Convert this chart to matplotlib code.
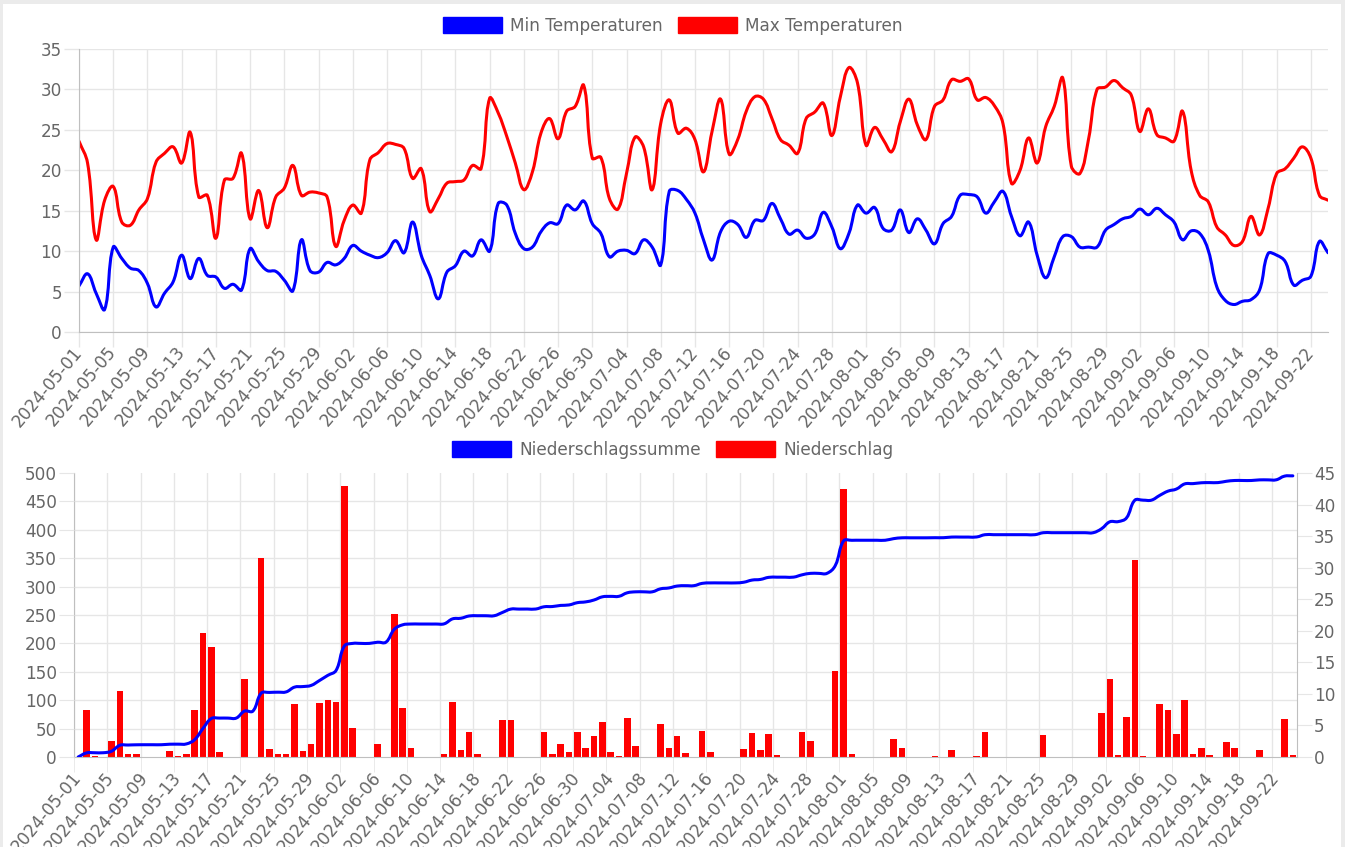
import numpy as np
import pandas as pd
import matplotlib
matplotlib.use("Agg")
import matplotlib.pyplot as plt
from matplotlib.path import Path
from matplotlib.patches import PathPatch, Patch, Rectangle

# daily values 2024-05-01 .. 2024-09-24
dates = pd.date_range("2024-05-01", "2024-09-24").strftime("%Y-%m-%d").tolist()

t_min = [
    5.7, 7.2, 4.8, 2.8, 10.5, 9.1, 7.9, 7.6, 6.0, 3.1,
    4.8, 6.2, 9.5, 6.6, 9.1, 7.0, 6.8, 5.4, 5.9, 5.2,
    10.3, 8.7, 7.6, 7.5, 6.4, 5.1, 11.4, 7.6, 7.4, 8.6,
    8.3, 9.1, 10.7, 10.0, 9.5, 9.2, 9.8, 11.3, 9.8, 13.6,
    9.5, 7.0, 4.1, 7.4, 8.2, 10.0, 9.4, 11.4, 10.0, 15.9,
    15.7, 12.2, 10.3, 10.5, 12.4, 13.5, 13.4, 15.7, 15.1, 16.2,
    13.4, 12.2, 9.3, 10.0, 10.1, 9.7, 11.4, 10.5, 8.3, 17.4,
    17.5, 16.4, 14.7, 11.4, 8.9, 12.4, 13.7, 13.3, 11.7, 13.8,
    13.8, 15.9, 14.0, 12.1, 12.6, 11.6, 12.1, 14.8, 13.0, 10.3,
    12.2, 15.7, 14.7, 15.4, 12.8, 12.6, 15.1, 12.3, 14.0, 12.6,
    10.9, 13.4, 14.3, 16.9, 17.0, 16.7, 14.7, 16.1, 17.4, 14.3,
    11.9, 13.6, 9.5, 6.7, 9.3, 11.8, 11.8, 10.5, 10.5, 10.5,
    12.6, 13.3, 14.0, 14.3, 15.2, 14.5, 15.3, 14.5, 13.6, 11.4,
    12.5, 12.2, 10.1, 5.6, 3.9, 3.4, 3.8, 4.0, 5.2, 9.7,
    9.5, 8.7, 5.8, 6.4, 6.9, 11.2, 9.8,
]

t_max = [
    23.6, 20.9, 11.4, 16.3, 18.0, 13.6, 13.2, 15.1, 16.5, 21.0,
    22.1, 22.9, 20.9, 24.7, 16.7, 16.9, 11.6, 18.8, 19.0, 22.1,
    14.0, 17.5, 12.9, 16.7, 17.8, 20.6, 16.9, 17.3, 17.2, 16.7,
    10.6, 13.8, 15.7, 14.7, 21.3, 22.2, 23.3, 23.2, 22.7, 19.0,
    20.2, 14.9, 16.5, 18.4, 18.6, 18.8, 20.6, 20.2, 28.9, 27.1,
    24.2, 20.9, 17.6, 19.8, 24.6, 26.4, 23.9, 27.3, 27.9, 30.5,
    21.5, 21.6, 16.5, 15.2, 19.6, 24.1, 22.9, 17.6, 25.8, 28.7,
    24.6, 25.2, 23.8, 19.8, 24.8, 28.8, 22.0, 23.8, 27.3, 29.1,
    28.8, 26.4, 23.8, 23.1, 22.1, 26.4, 27.2, 28.3, 24.3, 29.1,
    32.7, 30.8, 23.1, 25.3, 23.8, 22.3, 26.0, 28.8, 25.6, 23.8,
    27.9, 28.7, 31.2, 31.0, 31.3, 28.7, 29.0, 28.0, 25.8, 18.4,
    20.0, 24.0, 20.9, 25.4, 27.9, 31.4, 20.5, 19.6, 23.8, 30.0,
    30.3, 31.1, 30.2, 29.3, 24.8, 27.6, 24.4, 24.0, 23.6, 27.3,
    20.0, 16.9, 16.1, 13.0, 12.0, 10.7, 11.2, 14.3, 12.0, 15.3,
    19.6, 20.2, 21.5, 22.9, 21.5, 16.9, 16.3,
]

rain = [
    0, 7.4, 0.1, 0, 2.6, 10.5, 0.5, 0.4, 0.05, 0,
    0, 0.9, 0.15, 0.4, 7.5, 19.7, 17.5, 0.8, 0, 0,
    12.3, 0, 31.6, 1.3, 0.4, 0.5, 8.4, 1.0, 2.0, 8.6,
    9.1, 8.7, 43.0, 4.6, 0, 0, 2.1, 0.05, 22.7, 7.8,
    1.4, 0, 0, 0.05, 0.4, 8.7, 1.1, 4.0, 0.4, 0,
    0, 5.8, 5.9, 0, 0.05, 0, 4.0, 0.4, 2.0, 0.8,
    4.0, 1.4, 3.3, 5.6, 0.8, 0.1, 6.2, 1.7, 0, 0,
    5.3, 1.5, 3.4, 0.6, 0, 4.1, 0.8, 0, 0, 0,
    1.2, 3.8, 1.1, 3.7, 0.3, 0, 0.05, 4.0, 2.6, 0,
    0, 13.7, 42.5, 0.5, 0.05, 0, 0, 0, 2.8, 1.5,
    0, 0, 0, 0.2, 0, 1.1, 0, 0, 0.15, 4.0,
    0, 0, 0, 0, 0, 0, 3.5, 0, 0, 0,
    0, 0, 0, 6.9, 12.3, 0.3, 6.4, 31.2, 0.15, 0.05,
    8.4, 7.5, 3.6, 9.1, 0.5, 1.5, 0.3, 0, 2.3, 1.4,
    0, 0, 1.1, 0, 0.05, 6.0, 0.3,
]

rain_sum = [
    0, 7.2, 7.5, 7.5, 10.1, 20.6, 21.1, 21.5, 21.6, 21.6,
    21.6, 22.5, 22.6, 23.0, 30.5, 50.2, 67.7, 68.5, 68.5, 68.5,
    80.8, 80.8, 112.4, 113.7, 114.1, 114.6, 123.0, 124.0, 126.0, 134.6,
    143.7, 152.4, 195.4, 200.0, 200.0, 200.0, 202.1, 202.2, 224.9, 232.7,
    234.1, 234.1, 234.1, 234.1, 234.5, 243.2, 244.3, 248.3, 248.7, 248.7,
    248.7, 254.5, 260.4, 260.4, 260.5, 260.5, 264.5, 264.9, 266.9, 267.7,
    271.7, 273.1, 276.4, 282.0, 282.8, 282.9, 289.1, 290.8, 290.8, 290.8,
    296.1, 297.6, 301.0, 301.6, 301.6, 305.7, 306.5, 306.5, 306.5, 306.5,
    307.7, 311.5, 312.6, 316.3, 316.6, 316.6, 316.7, 320.7, 323.3, 323.3,
    323.3, 337.0, 380.5, 381.5, 381.6, 381.6, 381.6, 381.6, 384.4, 385.9,
    385.9, 385.9, 385.9, 386.1, 386.1, 387.2, 387.2, 387.2, 387.4, 391.4,
    391.4, 391.4, 391.4, 391.4, 391.4, 391.4, 394.9, 394.9, 394.9, 394.9,
    394.9, 394.9, 394.9, 401.8, 414.1, 414.4, 420.8, 452.0, 452.2, 452.2,
    460.6, 468.1, 471.7, 480.8, 481.3, 482.8, 483.1, 483.1, 485.4, 486.8,
    486.8, 486.8, 487.9, 487.9, 488.0, 494.5, 495.0,
]

TEXT = "#666666"
GRID = "#e6e6e6"
AXIS = "#bfbfbf"
FS = 12.2
W, H = 1345, 847

plt.rcParams["font.family"] = ["DejaVu Sans"]


def px_box(left, top, right, bottom):
    return [left / W, 1 - bottom / H, (right - left) / W, (bottom - top) / H]


def smooth_line(ax, xs, ys, color, tension=0.4, lw=2.2):
    # bezier curve through the points, like chart.js line tension
    pts = ax.transData.transform(np.column_stack([xs, ys]))
    n = len(pts)
    cp_in = np.zeros_like(pts)
    cp_out = np.zeros_like(pts)
    for i in range(n):
        p0 = pts[max(i - 1, 0)]
        p1 = pts[i]
        p2 = pts[min(i + 1, n - 1)]
        d01 = np.hypot(*(p1 - p0))
        d12 = np.hypot(*(p2 - p1))
        tot = d01 + d12
        s01 = d01 / tot if tot else 0
        s12 = d12 / tot if tot else 0
        cp_in[i] = p1 - tension * s01 * (p2 - p0)
        cp_out[i] = p1 + tension * s12 * (p2 - p0)
    verts = [pts[0]]
    codes = [Path.MOVETO]
    for i in range(n - 1):
        verts += [cp_out[i], cp_in[i + 1], pts[i + 1]]
        codes += [Path.CURVE4] * 3
    verts = ax.transData.inverted().transform(np.array(verts))
    ax.add_patch(PathPatch(Path(verts, codes), fill=False, edgecolor=color,
                           lw=lw, capstyle="round", joinstyle="round"))


def legend(labels, y_px):
    fig.legend(handles=[Patch(facecolor="blue", edgecolor="blue"),
                        Patch(facecolor="red", edgecolor="red")],
               labels=labels, loc="center", bbox_to_anchor=(0.5, 1 - y_px / H),
               ncol=2, frameon=False, fontsize=FS, labelcolor=TEXT,
               handlelength=3.5, handleheight=1.12, handletextpad=0.47,
               columnspacing=0.88)


fig = plt.figure(figsize=(W / 100, H / 100), dpi=100, facecolor="#ebebeb")
fig.add_artist(Rectangle((3 / W, 0), 1338 / W, 843 / H, transform=fig.transFigure,
                         facecolor="white", edgecolor="none", zorder=-1))

x = np.arange(len(dates))
ticks = x[::4]
tick_labels = [dates[i] for i in ticks]

# --- temperatures ---
ax_t = fig.add_axes(px_box(79, 49, 1328, 332))
ax_t.set_xlim(0, len(dates) - 1)
ax_t.set_ylim(0, 35)
ax_t.set_axisbelow(True)
ax_t.set_xticks(ticks)
ax_t.set_xticklabels(tick_labels, rotation=50, ha="right", va="center",
                     rotation_mode="anchor")
ax_t.set_yticks(range(0, 36, 5))
ax_t.grid(color=GRID, lw=1)
ax_t.tick_params(length=10.8, width=1, color=GRID, labelcolor=TEXT,
                 labelsize=FS, pad=1.5)
for s in ["top", "right"]:
    ax_t.spines[s].set_visible(False)
for s in ["left", "bottom"]:
    ax_t.spines[s].set_color(AXIS)

smooth_line(ax_t, x, t_max, "red")
smooth_line(ax_t, x, t_min, "blue")
legend(["Min Temperaturen", "Max Temperaturen"], 26)

# --- precipitation ---
ax_b = fig.add_axes(px_box(74, 473, 1297, 757))
ax_b.bar(x, rain, width=0.78, color="red", zorder=2)
ax_b.set_xlim(-0.5, len(dates) - 0.5)
ax_b.set_ylim(0, 45)
ax_b.set_axisbelow(True)

ax_s = ax_b.twinx()
ax_b.yaxis.tick_right()
ax_s.yaxis.tick_left()

ax_b.set_yticks(range(0, 46, 5))
ax_b.set_yticks(np.arange(0, 45.01, 4.5), minor=True)
ax_b.set_xticks(ticks)
ax_b.set_xticklabels(tick_labels, rotation=50, ha="right", va="center",
                     rotation_mode="anchor")
ax_b.set_xticks(ticks - 0.5, minor=True)
ax_b.grid(axis="x", which="minor", color=GRID, lw=1)
ax_b.grid(axis="y", which="minor", color=GRID, lw=1)
ax_b.tick_params(axis="x", which="major", length=0, labelcolor=TEXT,
                 labelsize=FS, pad=12.5)
ax_b.tick_params(axis="x", which="minor", length=10.8, color=GRID)
ax_b.tick_params(axis="y", which="major", length=10.8, color=GRID,
                 labelcolor=TEXT, labelsize=FS, pad=1.5)
ax_b.tick_params(axis="y", which="minor", length=0)
ax_b.spines["top"].set_visible(False)
for s in ["left", "right", "bottom"]:
    ax_b.spines[s].set_color(AXIS)

ax_s.set_ylim(0, 500)
ax_s.set_yticks(range(0, 501, 50))
ax_s.tick_params(axis="y", length=10.8, color=GRID, labelcolor=TEXT,
                 labelsize=FS, pad=1.5)
for s in ax_s.spines.values():
    s.set_visible(False)
smooth_line(ax_s, x, rain_sum, "blue")
legend(["Niederschlagssumme", "Niederschlag"], 450)

fig.savefig("out.png", dpi=100, facecolor=fig.get_facecolor())
